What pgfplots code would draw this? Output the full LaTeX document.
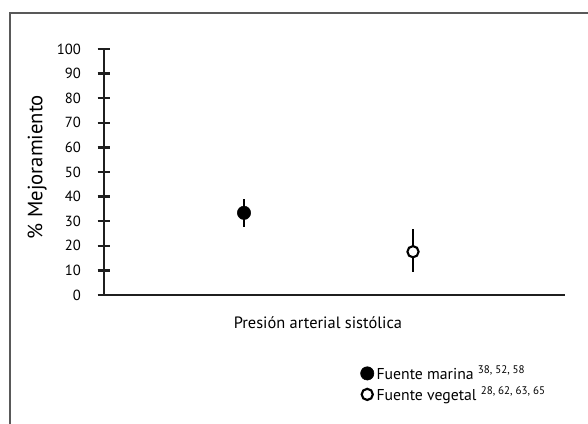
\documentclass[border=0pt]{standalone}
\usepackage{pgfplots}
\pgfplotsset{compat=1.18}
\usepackage{fontspec}
\setmainfont{PT Sans}
\begin{document}
\begin{tikzpicture}
\useasboundingbox (0,0) rectangle (441pt,-318pt);
\draw[line width=1.3pt, color=black!65] (7.5pt,-318pt) -- (7.5pt,-9.75pt) -- (441pt,-9.75pt);
\begin{axis}[
  at={(78pt,-221.25pt)}, anchor=south west,
  scale only axis, width=345.75pt, height=184.5pt,
  xmin=0, xmax=461, ymin=0, ymax=100,
  axis x line=bottom, axis y line=left,
  axis line style={-, line width=2pt, color=black!88},
  xtick=\empty,
  ytick={0,10,...,100},
  tick align=center,
  major tick length=9.5pt,
  every tick/.style={line width=1.8pt, color=black!88},
  y tick label style={font=\fontsize{11}{13}\selectfont, xshift=-9pt},
  /pgf/number format/assume math mode=true,
  ylabel={\% Mejoramiento},
  ylabel style={at={(axis description cs:-0.145,0.52)}, anchor=center, font=\fontsize{15.5}{18}\selectfont},
  xlabel={Presión arterial sistólica},
  xlabel style={at={(axis description cs:0.464,-0.114)}, anchor=center, font=\fontsize{12.3}{14}\selectfont},
  clip=false,
  legend style={at={(axis description cs:0.556,-0.275)}, anchor=north west, draw=none, fill=none,
    font=\fontsize{11.8}{14}\selectfont, row sep=0pt, inner sep=0pt,
    /tikz/every even column/.append style={column sep=1pt}},
  legend cell align=left,
  legend image code/.code={\draw[mark repeat=2,mark phase=2,#1] plot coordinates {(0pt,0pt)(5.5pt,0pt)(11pt,0pt)};},
]
\addplot+[only marks, mark=*, color=black, mark size=5pt, mark options={fill=black},
  error bars/.cd, y dir=both, y explicit, error mark=none,
  error bar style={line width=1.9pt, color=black}]
  coordinates {(140,33.4) +- (0,5.7)};
\addlegendentry{Fuente marina \textsuperscript{38, 52, 58}}
\addplot+[only marks, mark=*, color=black, mark size=4.2pt, mark options={fill=white, line width=1.6pt},
  error bars/.cd, y dir=both, y explicit, error mark=none,
  error bar style={line width=1.9pt, color=black}]
  coordinates {(309,17.6) +=(0,9.2) -=(0,8.1)};
\addlegendentry{Fuente vegetal \textsuperscript{28, 62, 63, 65}}
\end{axis}
\end{tikzpicture}
\end{document}
